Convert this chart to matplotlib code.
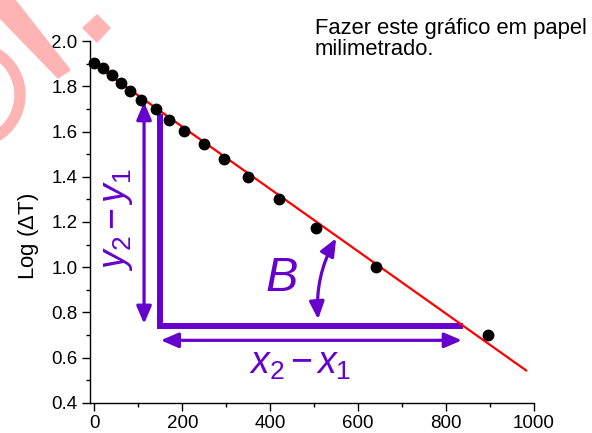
import numpy as np
import matplotlib
matplotlib.use("Agg")
import matplotlib.pyplot as plt
from matplotlib.patches import Polygon, Wedge

plt.rcParams['font.family'] = ['Liberation Sans', 'DejaVu Sans']
plt.rcParams['mathtext.fontset'] = 'custom'
plt.rcParams['mathtext.rm'] = 'Liberation Sans'
plt.rcParams['mathtext.it'] = 'Liberation Sans:italic'

# dados
tempo = [0, 20, 40, 60, 80, 105, 140, 170, 205, 250, 295, 350, 420, 505, 640, 895]
logdT = [1.904, 1.879, 1.850, 1.815, 1.779, 1.739, 1.699, 1.653, 1.602, 1.543,
         1.477, 1.400, 1.301, 1.174, 1.001, 0.699]
reta_x = [-9, 982]
reta_y = [1.909, 0.544]

# anotacoes (coordenadas de dados)
seta_y = [113, 0.750, 1.730]      # x, y inferior, y superior
ele_x = [149, 838]
ele_y = [1.677, 0.739]
seta_x = [151, 836, 0.677]        # x esq, x dir, y
curva = [(509, 0.770), (550, 1.128)]

roxo = '#6600cc'
rosa = '#ffb4b4'

fig = plt.figure(figsize=(5.92, 4.33), dpi=100)
ax = fig.add_axes([0.152, 0.0693, 0.750, 0.836])

ax.plot(reta_x, reta_y, color='red', lw=1.6, zorder=3)
ax.plot(tempo, logdT, 'o', color='black', ms=7.5, zorder=4, clip_on=False)

# L grosso
ax.plot([ele_x[0], ele_x[0], ele_x[1]], [ele_y[0], ele_y[1], ele_y[1]],
        color=roxo, lw=4.3, solid_joinstyle='miter', solid_capstyle='butt', zorder=2)

estilo = '<|-|>,head_length=0.7,head_width=0.3'
seta = dict(arrowstyle=estilo, color=roxo, lw=2.3, mutation_scale=15,
            shrinkA=0, shrinkB=0)
ax.annotate('', xy=(seta_y[0], seta_y[2]), xytext=(seta_y[0], seta_y[1]),
            arrowprops=seta)
ax.annotate('', xy=(seta_x[1], seta_x[2]), xytext=(seta_x[0], seta_x[2]),
            arrowprops=seta)
ax.annotate('', xy=curva[1], xytext=curva[0],
            arrowprops=dict(seta, connectionstyle='arc3,rad=-0.15'))

ax.text(427, 0.951, 'B', color=roxo, fontsize=35, style='italic',
        ha='center', va='center')
ax.text(52, 1.21, r'$y_2\,$−$\,y_1$', color=roxo, fontsize=27, rotation=90,
        ha='center', va='center')
ax.text(468, 0.571, r'$x_2\,$−$\,x_1$', color=roxo, fontsize=27,
        ha='center', va='center')

ax.set_xlim(-10, 1000)
ax.set_ylim(0.4, 2.0)
ax.set_xticks(np.arange(0, 1001, 200))
ax.set_xticks(np.arange(100, 1000, 200), minor=True)
ax.set_yticks(np.arange(0.4, 2.01, 0.2))
ax.set_yticks(np.arange(0.5, 2.0, 0.2), minor=True)
ax.set_yticklabels(['%.1f' % v for v in np.arange(0.4, 2.01, 0.2)])
ax.tick_params(labelsize=13.5, width=1, length=5.5, direction='out')
ax.tick_params(which='minor', width=1, length=3)
for s in ['top', 'right']:
    ax.spines[s].set_visible(False)
for s in ['left', 'bottom']:
    ax.spines[s].set_linewidth(1)

ax.set_ylabel('Log ($\\Delta$T)', fontsize=16)
ax.yaxis.set_label_coords(-0.11, 0.46)

fig.text(315 / 592, 1 - 18 / 433,
         'Fazer este gráfico em papel\nmilimetrado.',
         fontsize=15.8, va='top', ha='left', linespacing=0.98)

# marca d'agua (pixels da figura)
H = 433
def px(pts):
    return [(x / 592, (H - y) / H) for x, y in pts]

fig.patches.append(Polygon(px([(0, 0), (15, 0), (70, 70), (58, 78), (0, 18)]),
                           closed=True, color=rosa, transform=fig.transFigure,
                           zorder=0))
fig.patches.append(Polygon(px([(83, 28), (97, 15), (110, 28), (97, 42)]),
                           closed=True, color=rosa, transform=fig.transFigure,
                           zorder=0))
anel = Wedge((-28, H - 95), 53, -60, 60, width=10, color=rosa,
             transform=None, zorder=0)
fig.patches.append(anel)

fig.savefig('out.png', dpi=100)
